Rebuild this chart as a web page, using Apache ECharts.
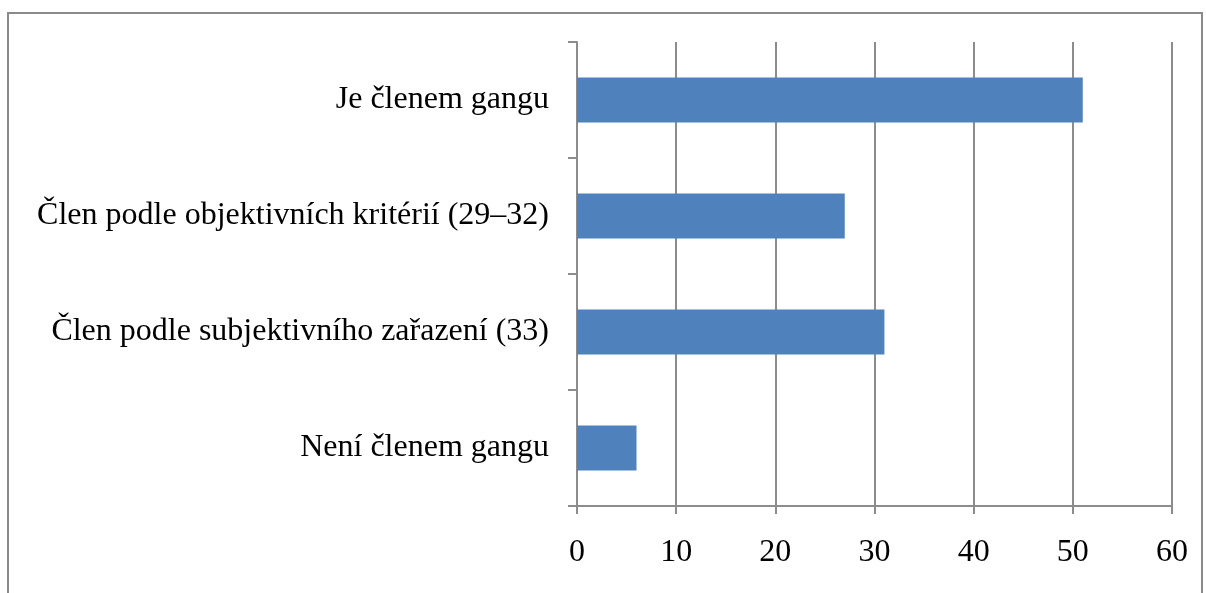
<!DOCTYPE html>
<html>
<head>
<meta charset="utf-8">
<script src="https://cdn.jsdelivr.net/npm/echarts@6/dist/echarts.min.js"></script>
<style>
  html, body { margin: 0; padding: 0; background: #fff; }
  #chart { width: 1206px; height: 593px; }
</style>
</head>
<body>
<div id="chart"></div>
<script>
// kategorie odshora dolů
var categories = [
    'Je členem gangu',
    'Člen podle objektivních kritérií (29–32)',
    'Člen podle subjektivního zařazení (33)',
    'Není členem gangu'
];
var values = [51, 27, 31, 6];
var axisMin = 0, axisMax = 60, axisStep = 10;

var chart = echarts.init(document.getElementById('chart'));
var font = '"Liberation Serif", "DejaVu Serif", serif';
var lineGray = '#8c8c8c';

var option = {
    backgroundColor: '#fff',
    animation: false,
    graphic: [{
        type: 'rect',
        shape: { x: 8, y: 13, width: 1194, height: 600 },
        style: { fill: 'none', stroke: '#8a8a8a', lineWidth: 2 }
    }],
    grid: {
        left: 577,
        right: 34,
        top: 42,
        bottom: 87
    },
    xAxis: {
        type: 'value',
        min: axisMin,
        max: axisMax,
        interval: axisStep,
        axisLine: { show: true, lineStyle: { color: lineGray, width: 2 } },
        axisTick: { show: true, length: 8, lineStyle: { color: lineGray, width: 2 } },
        splitLine: { show: true, lineStyle: { color: lineGray, width: 2 } },
        axisLabel: {
            margin: 31,
            color: '#000',
            fontSize: 32,
            fontFamily: font
        }
    },
    yAxis: {
        type: 'category',
        inverse: true,
        data: categories,
        axisLine: { show: true, lineStyle: { color: lineGray, width: 2 } },
        axisTick: { show: true, length: 9, lineStyle: { color: lineGray, width: 2 } },
        axisLabel: {
            margin: 28,
            color: '#000',
            fontSize: 32,
            fontFamily: font
        }
    },
    series: [{
        type: 'bar',
        data: values,
        barWidth: '39%',
        itemStyle: { color: '#4f81bd' }
    }]
};

chart.setOption(option);
</script>
</body>
</html>
